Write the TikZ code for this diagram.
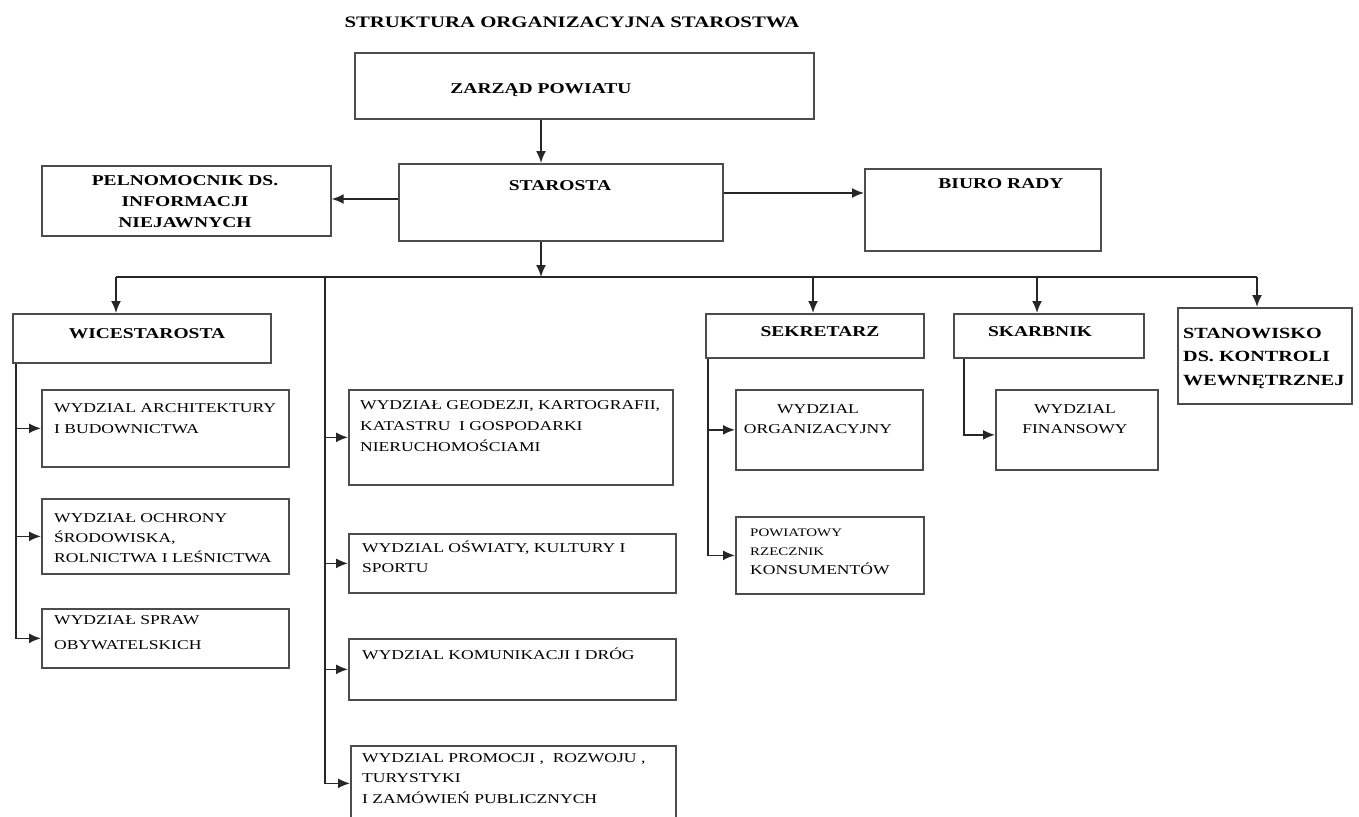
\documentclass[tikz,border=0pt]{standalone}
\usepackage{fontspec}
\setmainfont{Liberation Serif}[FakeStretch=1.3]
\usetikzlibrary{arrows.meta}
\newcommand\tstr{\rule{0pt}{12pt}}
\newcommand\hstr{\rule{0pt}{13pt}}
\begin{document}
\begin{tikzpicture}[x=1pt,y=-1pt,
  box/.style={draw=black!70, line width=1.7pt, rectangle, inner sep=0pt, anchor=north west},
  conn/.style={draw=black!85, line width=1.7pt},
  arr/.style={conn, -{Latex[length=12pt,width=10pt]}},
  hd/.style={font=\fontsize{15}{21}\selectfont\bfseries, inner sep=0pt, anchor=base},
  hdm/.style={font=\fontsize{15}{21}\selectfont\bfseries, inner sep=0pt, align=center, anchor=north},
  dep/.style={font=\fontsize{13.5}{21}\selectfont, inner sep=0pt, align=left, anchor=north west},
  depc/.style={font=\fontsize{13.5}{20}\selectfont, inner sep=0pt, align=center, anchor=north},
]
\useasboundingbox[fill=white] (0,0) rectangle (1359,816);
\clip (0,0) rectangle (1359,816);

% title
\node[font=\fontsize{16}{20}\selectfont\bfseries, inner sep=0pt, anchor=base] (title) at (572,28) {STRUKTURA ORGANIZACYJNA STAROSTWA};

% boxes
\node[box, minimum width=459pt, minimum height=66pt] (zarzad) at (354,52) {};
\node[box, minimum width=324pt, minimum height=77pt] (starosta) at (398,163) {};
\node[box, minimum width=289pt, minimum height=70pt] (peln) at (41,165) {};
\node[box, minimum width=236pt, minimum height=82pt] (biuro) at (864,168) {};
\node[box, minimum width=258pt, minimum height=49pt] (wice) at (12,313) {};
\node[box, minimum width=218pt, minimum height=44pt] (sekr) at (705,313) {};
\node[box, minimum width=190pt, minimum height=44pt] (skarb) at (953,313) {};
\node[box, minimum width=174pt, minimum height=96pt] (stan) at (1177,307) {};
\node[box, minimum width=247pt, minimum height=77pt] (arch) at (41,389) {};
\node[box, minimum width=247pt, minimum height=75pt] (ochr) at (41,498) {};
\node[box, minimum width=247pt, minimum height=59pt] (spraw) at (41,608) {};
\node[box, minimum width=324pt, minimum height=95pt] (geo) at (348,389) {};
\node[box, minimum width=327pt, minimum height=59pt] (osw) at (348,533) {};
\node[box, minimum width=327pt, minimum height=61pt] (kom) at (348,638) {};
\node[box, minimum width=325pt, minimum height=85pt] (prom) at (350,745) {};
\node[box, minimum width=187pt, minimum height=80pt] (org) at (735,389) {};
\node[box, minimum width=188pt, minimum height=77pt] (rzecz) at (735,516) {};
\node[box, minimum width=162pt, minimum height=80pt] (fin) at (995,389) {};

% texts
\node[hd] (tzarzad) at (541,93) {ZARZĄD POWIATU};
\node[hd] (tstarosta) at (560,190) {STAROSTA};
\node[hdm] (tpeln) at (185,172) {\hstr PELNOMOCNIK DS.\\INFORMACJI\\NIEJAWNYCH};
\node[hd] (tbiuro) at (1001,188) {BIURO RADY};
\node[hd] (twice) at (147,338) {WICESTAROSTA};
\node[hd] (tsekr) at (820,336) {SEKRETARZ};
\node[hd] (tskarb) at (1040,336) {SKARBNIK};
\node[font=\fontsize{15.5}{23.5}\selectfont\bfseries, inner sep=0pt, align=left, anchor=north west] (tstan) at (1183,325) {\hstr STANOWISKO\\DS. KONTROLI\\WEWNĘTRZNEJ};

\node[dep] (tarch) at (54,400) {\tstr WYDZIAL ARCHITEKTURY\\I BUDOWNICTWA};
\node[dep, font=\fontsize{13.5}{20}\selectfont] (tochr) at (54,510) {\tstr WYDZIAŁ OCHRONY\\ŚRODOWISKA,\\ROLNICTWA I LEŚNICTWA};
\node[dep, font=\fontsize{13.5}{25}\selectfont] (tspraw) at (54,612) {\tstr WYDZIAŁ SPRAW\\OBYWATELSKICH};
\node[dep] (tgeo) at (360,397) {\tstr WYDZIAŁ GEODEZJI, KARTOGRAFII,\\KATASTRU~~I GOSPODARKI\\NIERUCHOMOŚCIAMI};
\node[dep, font=\fontsize{13.5}{20}\selectfont] (tosw) at (362,540) {\tstr WYDZIAL OŚWIATY, KULTURY I\\SPORTU};
\node[dep] (tkom) at (362,647) {\tstr WYDZIAL KOMUNIKACJI I DRÓG};
\node[dep, font=\fontsize{13.5}{20.5}\selectfont] (tprom) at (362,750) {\tstr WYDZIAL PROMOCJI , ~ROZWOJU ,\\TURYSTYKI\\I ZAMÓWIEŃ PUBLICZNYCH};
\node[depc] (torg) at (818,401) {\tstr WYDZIAL\\ORGANIZACYJNY};
\node[dep, font=\fontsize{11.5}{19}\selectfont] (trzecz) at (750,526) {\rule{0pt}{10pt}POWIATOWY\\RZECZNIK\\{\fontsize{13.5}{20}\selectfont KONSUMENTÓW}};
\node[depc] (tfin) at (1075,401) {\tstr WYDZIAL\\FINANSOWY};

% helper coordinates
\coordinate (cS) at (541,0);
\coordinate (bus) at (0,277);
\coordinate (yP) at (0,199);
\coordinate (yB) at (0,193);
\coordinate (xW) at (116,0);
\coordinate (xM) at (325,0);
\coordinate (xSe) at (813,0);
\coordinate (xSk) at (1037,0);
\coordinate (xSt) at (1257,0);
\coordinate (tL) at (16,0);
\coordinate (tS) at (708,0);
\coordinate (tK) at (964,0);

% connectors
\draw[arr] (cS |- zarzad.south) -- (cS |- starosta.north);
\draw[arr] (starosta.west |- yP) -- (peln.east |- yP);
\draw[arr] (starosta.east |- yB) -- (biuro.west |- yB);
\draw[arr] (cS |- starosta.south) -- (cS |- bus);
\draw[conn] (xW |- bus) -- (xSt |- bus);
\draw[arr] (xW |- bus) -- (xW |- wice.north);
\draw[arr] (xSe |- bus) -- (xSe |- sekr.north);
\draw[arr] (xSk |- bus) -- (xSk |- skarb.north);
\draw[arr] (xSt |- bus) -- (xSt |- stan.north);

\draw[arr] (tL |- wice.south) |- (arch.west);
\draw[arr] (tL |- wice.south) |- (ochr.west);
\draw[arr] (tL |- wice.south) |- (spraw.west);

\draw[arr] (xM |- bus) |- (geo.west);
\draw[arr] (xM |- bus) |- (osw.west);
\draw[arr] (xM |- bus) |- (kom.west);
\draw[arr] (xM |- bus) |- ([yshift=5pt]prom.west);

\draw[arr] (tS |- sekr.south) |- (org.west);
\draw[arr] (tS |- sekr.south) |- (rzecz.west);
\draw[arr] (tK |- skarb.south) |- ([yshift=-5pt]fin.west);
\end{tikzpicture}
\end{document}
